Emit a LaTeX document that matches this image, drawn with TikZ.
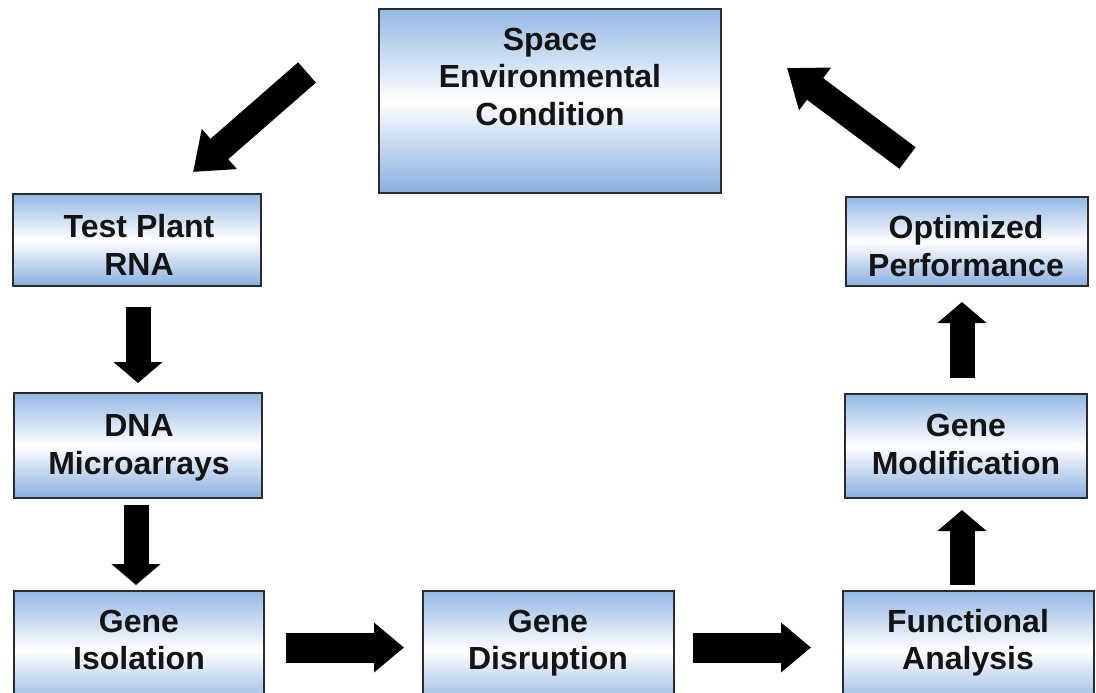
\documentclass[tikz,border=0pt]{standalone}
\usepackage{fontspec}
\setmainfont{Liberation Sans}
\usetikzlibrary{arrows.meta}
\definecolor{boxtop}{HTML}{93B8E5}
\definecolor{boxbot}{HTML}{88AFDF}
\definecolor{boxline}{HTML}{2B2B2B}
\begin{document}
\begin{tikzpicture}[x=1pt,y=-1pt,
  box/.style={rectangle, draw=boxline, line width=1.5pt, top color=boxtop, bottom color=boxbot, middle color=white, inner sep=0pt, outer sep=0pt},
  lbl/.style={font=\fontsize{32}{37.5}\selectfont\bfseries, align=center, anchor=base, inner sep=0pt, text=black!92},
  vbigarrow/.style={line width=25pt, black, -{Triangle[length=21pt,width=48pt]}},
  hbigarrow/.style={line width=30pt, black, -{Triangle[length=30pt,width=48pt]}},
  dbigarrow/.style={line width=27pt, black, -{Triangle[length=35pt,width=51pt]}}]
\useasboundingbox (0,0) rectangle (1096,693);
\clip (0,0) rectangle (1096,693);
\fill[white] (0,0) rectangle (1096,693);
% boxes
\node[box, minimum width=342pt, minimum height=184pt] (space) at (550,101) {};
\node[box, minimum width=248pt, minimum height=92pt] (test) at (137,240) {};
\node[box, minimum width=248pt, minimum height=105pt] (dna) at (138,445.5) {};
\node[box, minimum width=250pt, minimum height=119pt] (iso) at (139,650.5) {};
\node[box, minimum width=251pt, minimum height=119pt] (dis) at (548.5,650.5) {};
\node[box, minimum width=251pt, minimum height=119pt] (fun) at (968.5,650.5) {};
\node[box, minimum width=242pt, minimum height=104pt] (mod) at (966,446) {};
\node[box, minimum width=242pt, minimum height=89pt] (opt) at (967,241.5) {};
% labels (anchor = baseline of last line)
\node[lbl] (spacet) at (550,125) {Space\\Environmental\\Condition};
\node[lbl] (testt) at (139,275) {Test Plant\\RNA};
\node[lbl] (dnat) at (139,474) {DNA\\Microarrays};
\node[lbl] (isot) at (139,669.5) {Gene\\Isolation};
\node[lbl] (dist) at (548,669.5) {Gene\\Disruption};
\node[lbl] (funt) at (968,669.5) {Functional\\Analysis};
\node[lbl] (modt) at (966,474) {Gene\\Modification};
\node[lbl] (optt) at (966,276) {Optimized\\Performance};
% arrows
\coordinate (a1s) at (307,72.5);
\coordinate (a1e) at (193,172);
\coordinate (a2s) at (907.5,158);
\coordinate (a2e) at (787,68);
\draw[dbigarrow] (a1s) -- (a1e);
\draw[dbigarrow] (a2s) -- (a2e);
\draw[vbigarrow, shorten <=21pt, shorten >=10pt] ([xshift=1pt]test.south) -- (dna.north);
\draw[vbigarrow, shorten <=7pt, shorten >=6pt] ([xshift=-2pt]dna.south) -- ([xshift=-3pt]iso.north);
\draw[hbigarrow, shorten <=22pt, shorten >=19pt] ([yshift=3pt]iso.east) -- ([yshift=3pt]dis.west);
\draw[hbigarrow, shorten <=19pt, shorten >=32pt] ([yshift=3pt]dis.east) -- ([yshift=3pt]fun.west);
\draw[vbigarrow, shorten <=6pt, shorten >=12pt] ([xshift=-6.5pt]fun.north) -- ([xshift=-4pt]mod.south);
\draw[vbigarrow, shorten <=16pt, shorten >=16pt] ([xshift=-4pt]mod.north) -- ([xshift=-5pt]opt.south);
\end{tikzpicture}
\end{document}
